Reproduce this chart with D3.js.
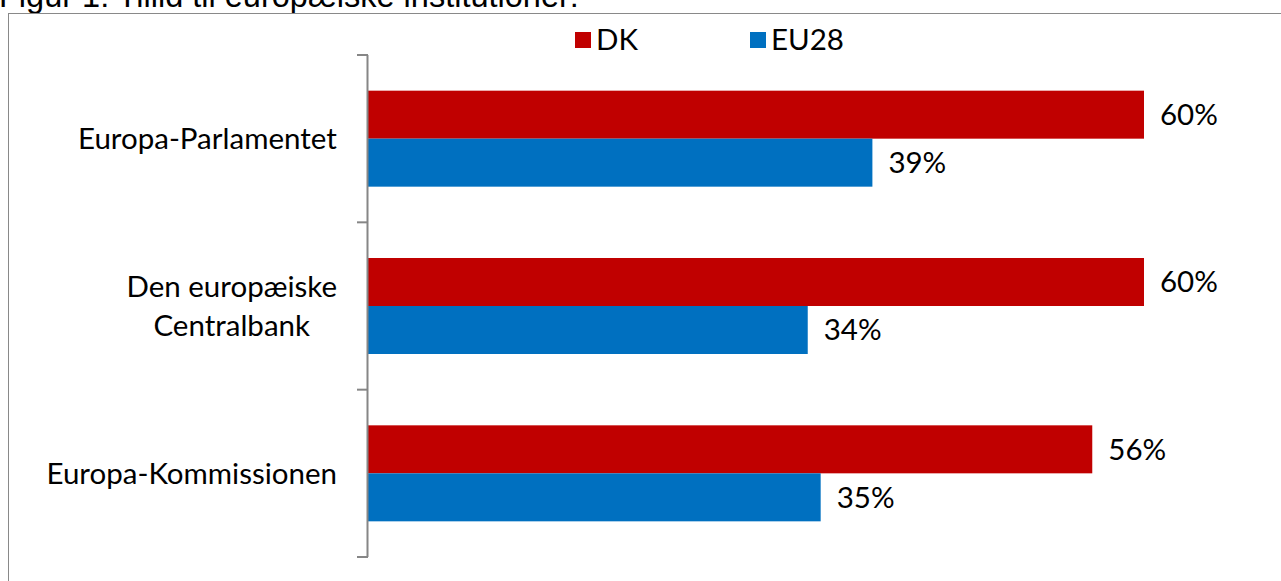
<!DOCTYPE html>
<html>
<head>
<meta charset="utf-8">
<script src="https://cdn.jsdelivr.net/npm/d3@7"></script>
<style>
  body { margin: 0; background: #fff; }
  svg { display: block; }
</style>
</head>
<body>
<div id="chart"></div>
<script>
// data
const categories = ["Europa-Parlamentet", "Den europæiske\nCentralbank", "Europa-Kommissionen"];
const seriesNames = ["DK", "EU28"];
const dkValues = [60, 60, 56];
const eu28Values = [39, 34, 35];
const colors = ["#c00000", "#0070c0"];

const width = 1281, height = 581;
const fontLabel = "Lato, 'Open Sans', sans-serif";
const fontSize = "29.5px";

const svg = d3.select("#chart").append("svg")
  .attr("width", width)
  .attr("height", height);

// title, cut off at top
svg.append("text")
  .attr("x", -1).attr("y", 7)
  .style("font-family", "'Liberation Sans', Arial, sans-serif")
  .style("font-size", "32.5px")
  .attr("fill", "#000")
  .text("Figur 1: Tillid til europæiske institutioner:");

// chart frame
svg.append("rect")
  .attr("x", 8.5).attr("y", 13.5)
  .attr("width", 1300).attr("height", 600)
  .attr("fill", "none")
  .attr("stroke", "#898989")
  .attr("stroke-width", 1);

// scales
const xScale = d3.scaleLinear().domain([0, 60]).range([368, 1144]);
const yScale = d3.scaleBand().domain(categories).range([55, 557]);
const inner = d3.scaleBand().domain(seriesNames).range([0, 96]);
const groupPad = (yScale.bandwidth() - 96) / 2;

const rows = categories.map((c, i) => ({ cat: c, vals: [dkValues[i], eu28Values[i]] }));

const groups = svg.append("g").selectAll("g")
  .data(rows).enter().append("g")
  .attr("transform", d => "translate(0," + (yScale(d.cat) + groupPad) + ")");

groups.selectAll("rect")
  .data(d => d.vals.map((v, j) => ({ name: seriesNames[j], v: v, j: j })))
  .enter().append("rect")
  .attr("x", xScale(0))
  .attr("y", d => inner(d.name))
  .attr("width", d => xScale(d.v) - xScale(0))
  .attr("height", inner.bandwidth())
  .attr("fill", d => colors[d.j]);

groups.selectAll("text")
  .data(d => d.vals.map((v, j) => ({ name: seriesNames[j], v: v })))
  .enter().append("text")
  .attr("x", d => xScale(d.v) + 16)
  .attr("y", d => inner(d.name) + inner.bandwidth() / 2)
  .attr("dy", "0.35em")
  .style("font-family", fontLabel)
  .style("font-size", fontSize)
  .attr("fill", "#000")
  .text(d => d.v + "%");

// y axis with ticks between categories
const axisG = svg.append("g").attr("class", "yaxis");
axisG.append("line")
  .attr("x1", 367.5).attr("x2", 367.5)
  .attr("y1", 55).attr("y2", 557)
  .attr("stroke", "#868686").attr("stroke-width", 2);
const tickYs = categories.map(c => yScale(c)).concat([yScale.range()[1]]);
axisG.selectAll("line.tick")
  .data(tickYs).enter().append("line")
  .attr("class", "tick")
  .attr("x1", 357).attr("x2", 368)
  .attr("y1", d => d).attr("y2", d => d)
  .attr("stroke", "#868686").attr("stroke-width", 2);

// category labels (multi-line centred on each other, right-aligned block)
categories.forEach(c => {
  const lines = c.split("\n");
  const cy = yScale(c) + yScale.bandwidth() / 2;
  const t = svg.append("text")
    .style("font-family", fontLabel)
    .style("font-size", fontSize)
    .attr("fill", "#000");
  lines.forEach((ln, k) => {
    t.append("tspan")
      .attr("x", 0)
      .attr("y", cy + (k - (lines.length - 1) / 2) * 39)
      .attr("dy", "0.35em")
      .text(ln);
  });
  const w = t.node().getBBox().width;
  const center = 337 - w / 2;
  t.attr("text-anchor", "middle");
  t.selectAll("tspan").attr("x", center);
});

// legend
const legendX = [575, 750];
const legend = svg.append("g").selectAll("g")
  .data(seriesNames).enter().append("g")
  .attr("transform", (d, i) => "translate(" + legendX[i] + ",32)");
legend.append("rect")
  .attr("width", 16).attr("height", 16)
  .attr("fill", (d, i) => colors[i]);
legend.append("text")
  .attr("x", 21).attr("y", 8)
  .attr("dy", "0.35em")
  .style("font-family", fontLabel)
  .style("font-size", fontSize)
  .attr("fill", "#000")
  .text(d => d);
</script>
</body>
</html>
